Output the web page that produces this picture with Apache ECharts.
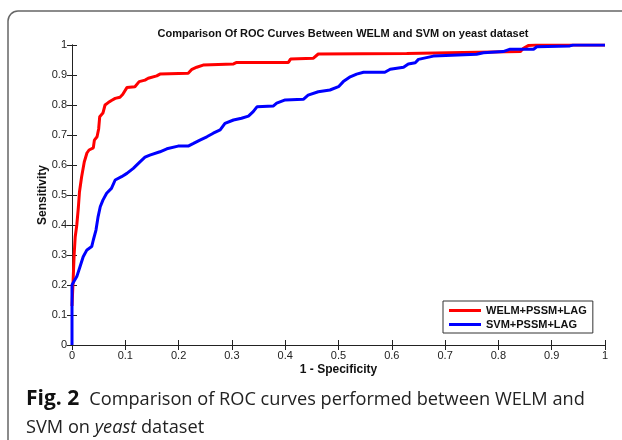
<!DOCTYPE html>
<html>
<head>
<meta charset="utf-8">
<script src="https://cdn.jsdelivr.net/npm/echarts@6/dist/echarts.min.js"></script>
<style>html,body{margin:0;padding:0;background:#fff;}#c{width:622px;height:440px;}</style>
</head>
<body>
<div id="c"></div>
<script>
const titleText = 'Comparison Of ROC Curves Between WELM and SVM on yeast dataset';
const seriesNames = ['WELM+PSSM+LAG', 'SVM+PSSM+LAG'];
const tickLabels = ['0','0.1','0.2','0.3','0.4','0.5','0.6','0.7','0.8','0.9','1'];

const welmFpr = [0, 0.002, 0.004, 0.006, 0.009, 0.012, 0.014, 0.018, 0.023, 0.028, 0.032, 0.04, 0.042, 0.047, 0.05, 0.052, 0.058, 0.062, 0.068, 0.074, 0.081, 0.09, 0.095, 0.103, 0.118, 0.126, 0.137, 0.143, 0.159, 0.165, 0.218, 0.225, 0.234, 0.246, 0.303, 0.309, 0.406, 0.41, 0.453, 0.462, 0.628, 0.631, 0.841, 0.847, 0.856, 0.87, 1];
const welmTpr = [0.13, 0.21, 0.3, 0.36, 0.40, 0.46, 0.51, 0.56, 0.61, 0.64, 0.65, 0.657, 0.683, 0.694, 0.72, 0.761, 0.773, 0.80, 0.808, 0.815, 0.822, 0.826, 0.835, 0.858, 0.861, 0.878, 0.883, 0.889, 0.897, 0.903, 0.906, 0.919, 0.926, 0.933, 0.937, 0.942, 0.942, 0.953, 0.956, 0.97, 0.972, 0.978, 0.978, 0.989, 0.998, 1, 1];

const svmFpr = [0, 0, 0.003, 0.009, 0.015, 0.021, 0.028, 0.037, 0.04, 0.045, 0.049, 0.053, 0.058, 0.065, 0.074, 0.081, 0.093, 0.103, 0.115, 0.128, 0.137, 0.146, 0.165, 0.178, 0.199, 0.218, 0.228, 0.24, 0.253, 0.265, 0.278, 0.287, 0.303, 0.318, 0.331, 0.34, 0.347, 0.378, 0.384, 0.40, 0.434, 0.443, 0.462, 0.484, 0.50, 0.509, 0.522, 0.534, 0.547, 0.587, 0.597, 0.622, 0.631, 0.644, 0.65, 0.678, 0.681, 0.759, 0.772, 0.809, 0.822, 0.866, 0.872, 0.934, 0.94, 1];
const svmTpr = [0, 0.2, 0.21, 0.228, 0.261, 0.294, 0.317, 0.328, 0.35, 0.383, 0.428, 0.461, 0.483, 0.506, 0.522, 0.55, 0.561, 0.572, 0.589, 0.611, 0.626, 0.633, 0.644, 0.654, 0.663, 0.663, 0.672, 0.683, 0.694, 0.706, 0.717, 0.739, 0.75, 0.756, 0.763, 0.778, 0.794, 0.797, 0.806, 0.817, 0.819, 0.833, 0.844, 0.85, 0.861, 0.878, 0.894, 0.903, 0.909, 0.909, 0.919, 0.926, 0.937, 0.941, 0.952, 0.963, 0.967, 0.969, 0.974, 0.978, 0.986, 0.986, 0.994, 0.997, 1, 1];

const captionBold = 'Fig. 2';
const captionLine1 = 'Comparison of ROC curves performed between WELM and';
const captionLine2a = 'SVM on ';
const captionLine2b = 'yeast';
const captionLine2c = ' dataset';

const pairs = (xs, ys) => xs.map((x, i) => [x, ys[i]]);
const fmt = v => tickLabels[Math.round(v * 10)];

const chart = echarts.init(document.getElementById('c'), null, {renderer: 'canvas'});
const axisFont = {fontFamily: 'Liberation Sans, Arial, sans-serif', fontSize: 11, color: '#222'};
const baseAxis = {
  min: 0, max: 1, interval: 0.1,
  axisLine: {lineStyle: {color: '#222', width: 1}},
  axisTick: {inside: true, length: 5, lineStyle: {color: '#222'}},
  splitLine: {show: false}
};
const capFont = 'Open Sans, Noto Sans, sans-serif';
chart.setOption({
  animation: false,
  backgroundColor: '#fff',
  title: {
    text: titleText, left: 338, top: 23, textAlign: 'center',
    textStyle: {fontFamily: 'Liberation Sans, Arial, sans-serif', fontSize: 11, fontWeight: 'bold', color: '#111'}
  },
  grid: {left: 72, top: 45, width: 533, height: 300},
  legend: {
    left: 443, top: 301, orient: 'vertical',
    itemWidth: 32, itemHeight: 3, itemGap: 3,
    padding: [4, 6, 3, 6],
    borderColor: '#333', borderWidth: 1, backgroundColor: '#fff',
    icon: 'rect',
    textStyle: {fontFamily: 'Liberation Sans, Arial, sans-serif', fontSize: 11, fontWeight: 'bold', color: '#111'},
    data: seriesNames
  },
  xAxis: [
    Object.assign({}, baseAxis, {
      type: 'value', position: 'bottom',
      name: '1 - Specificity', nameLocation: 'middle', nameGap: 19, nameMoveOverlap: false,
      nameTextStyle: {fontFamily: 'Liberation Sans, Arial, sans-serif', fontSize: 12, fontWeight: 'bold', color: '#111'},
      axisLabel: Object.assign({margin: 5, formatter: fmt}, axisFont)
    }),
    Object.assign({}, baseAxis, {type: 'value', position: 'top', axisLabel: {show: false}})
  ],
  yAxis: [
    Object.assign({}, baseAxis, {
      type: 'value', position: 'left',
      name: 'Sensitivity', nameLocation: 'middle', nameGap: 23, nameMoveOverlap: false,
      nameTextStyle: {fontFamily: 'Liberation Sans, Arial, sans-serif', fontSize: 12, fontWeight: 'bold', color: '#111'},
      axisLabel: Object.assign({margin: 5, formatter: fmt}, axisFont)
    }),
    Object.assign({}, baseAxis, {type: 'value', position: 'right', axisLabel: {show: false}})
  ],
  series: [
    {name: seriesNames[0], type: 'line', data: pairs(welmFpr, welmTpr), showSymbol: false, symbol: 'none',
     lineStyle: {color: '#ff0000', width: 3}, itemStyle: {color: '#ff0000'}},
    {name: seriesNames[1], type: 'line', data: pairs(svmFpr, svmTpr), showSymbol: false, symbol: 'none',
     lineStyle: {color: '#0000ff', width: 3}, itemStyle: {color: '#0000ff'}}
  ],
  graphic: [
    {type: 'rect', silent: true, z: -1,
     shape: {x: 8, y: 11, width: 700, height: 520, r: 10},
     style: {fill: 'none', stroke: '#666', lineWidth: 1.5}},
    {type: 'text', left: 26, top: 389,
     style: {
       text: '{b|' + captionBold + '}{sp| }' + '{n|' + captionLine1 + '}\n{n|' + captionLine2a + '}{i|' + captionLine2b + '}{n|' + captionLine2c + '}',
       rich: {
         b: {fontFamily: capFont, fontSize: 21, fontWeight: 'bold', fill: '#111', lineHeight: 28},
         sp: {fontFamily: capFont, fontSize: 18, width: 10, lineHeight: 28},
         n: {fontFamily: capFont, fontSize: 18.2, fill: '#222', lineHeight: 28},
         i: {fontFamily: capFont, fontSize: 18.2, fontStyle: 'italic', fill: '#222', lineHeight: 28}
       },
       font: '18px Open Sans', fill: '#222'
     }}
  ]
});
</script>
</body>
</html>
